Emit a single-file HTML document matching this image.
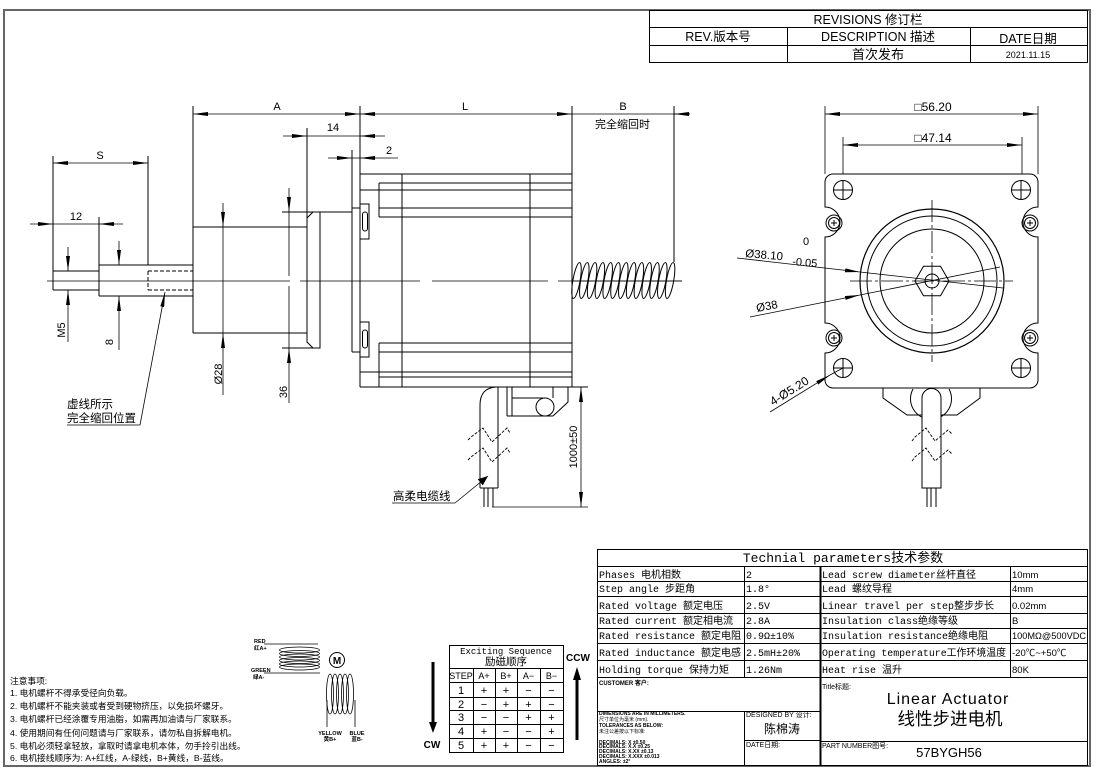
<!DOCTYPE html>
<html><head><meta charset="utf-8"><style>
html,body{margin:0;padding:0;background:#fff;}
svg{display:block;}
text{font-family:"Liberation Sans","Noto Sans CJK SC",sans-serif;fill:#000;}
.m{font-family:"Liberation Mono","Noto Sans CJK SC",monospace;}
.c{text-anchor:middle;}
</style></head><body>
<svg width="1097" height="774" viewBox="0 0 1097 774" xmlns="http://www.w3.org/2000/svg">
<defs>
<marker id="a" viewBox="0 0 15 4" refX="15" refY="2" markerWidth="15" markerHeight="4" markerUnits="userSpaceOnUse" orient="auto-start-reverse"><path d="M0,0L15,2L0,4z" fill="#000"/></marker>
<marker id="b" viewBox="0 0 10 8" refX="10" refY="4" markerWidth="10" markerHeight="8" markerUnits="userSpaceOnUse" orient="auto"><path d="M0,0L10,4L0,8z" fill="#000"/></marker>
</defs>
<rect x="0" y="0" width="1097" height="774" fill="#fff"/>
<rect x="4" y="10" width="1086" height="756" fill="none" stroke="#666" stroke-width="2"/>

<!-- REVISIONS -->
<g stroke="#000" stroke-width="1" fill="none">
<rect x="649.5" y="10.5" width="438" height="52"/>
<line x1="649.5" y1="27.5" x2="1087.5" y2="27.5"/>
<line x1="649.5" y1="45.5" x2="1087.5" y2="45.5"/>
<line x1="787.5" y1="27.5" x2="787.5" y2="62.5"/>
<line x1="970.5" y1="27.5" x2="970.5" y2="62.5"/>
</g>
<text class="c" x="868" y="24" font-size="12.5">REVISIONS 修订栏</text>
<text class="c" x="718" y="41" font-size="12.5">REV.版本号</text>
<text class="c" x="878" y="41" font-size="12.5">DESCRIPTION 描述</text>
<text class="c" x="1028" y="43" font-size="12.5">DATE日期</text>
<text class="c" x="878" y="59" font-size="13">首次发布</text>
<text class="c" x="1028" y="58" font-size="9">2021.11.15</text>

<!-- LEFT / SIDE VIEW -->
<g stroke="#000" stroke-width="1" fill="none">
<path d="M47,281H290M300,281H420M432,281H548M558,281H682" stroke-width="0.8"/>
<path d="M53,271H99M53,290H99M53,156V290"/>
<path d="M99,217V296M99,265H193M99,296H193"/>
<path d="M148,271H193M148,290H193M148,271V290" stroke-dasharray="4,2"/>
<path d="M148,156V265"/>
<path d="M193,106V333M193,227H307M193,333H307"/>
<path d="M307,128V342L313,348H320V212H313L307,218"/>
<path d="M282,212H352M282,348H320"/>
<path d="M352,150V352M352,208H360M352,352H360"/>
<path d="M360,106V387"/>
<path d="M360,174H572M379,183H572M360,190H572M379,208H572M379,217H572M379,183V217"/>
<path d="M379,343H572M379,352H572M360,372H572M379,377H572M360,387H588M379,343V387"/>
<path d="M402,174V387M530,174V387M572,106V387"/>
<rect x="360" y="204" width="9" height="35"/>
<rect x="362.5" y="212" width="5" height="19" rx="2.5"/>
<rect x="360" y="322" width="9" height="35"/>
<rect x="362.5" y="330" width="5" height="18" rx="2.5"/>
<path d="M674,106V262"/>
<!-- lead screw -->
<g stroke-width="1">
<ellipse cx="576.5" cy="280.5" rx="3.6" ry="18.2" transform="rotate(10 576.5 280.5)"/>
<ellipse cx="584.3" cy="280.5" rx="3.6" ry="18.2" transform="rotate(10 584.3 280.5)"/>
<ellipse cx="592.1" cy="280.5" rx="3.6" ry="18.2" transform="rotate(10 592.1 280.5)"/>
<ellipse cx="599.9" cy="280.5" rx="3.6" ry="18.2" transform="rotate(10 599.9 280.5)"/>
<ellipse cx="607.7" cy="280.5" rx="3.6" ry="18.2" transform="rotate(10 607.7 280.5)"/>
<ellipse cx="615.5" cy="280.5" rx="3.6" ry="18.2" transform="rotate(10 615.5 280.5)"/>
<ellipse cx="623.3" cy="280.5" rx="3.6" ry="18.2" transform="rotate(10 623.3 280.5)"/>
<ellipse cx="631.1" cy="280.5" rx="3.6" ry="18.2" transform="rotate(10 631.1 280.5)"/>
<ellipse cx="638.9" cy="280.5" rx="3.6" ry="18.2" transform="rotate(10 638.9 280.5)"/>
<ellipse cx="646.7" cy="280.5" rx="3.6" ry="18.2" transform="rotate(10 646.7 280.5)"/>
<ellipse cx="654.5" cy="280.5" rx="3.6" ry="18.2" transform="rotate(10 654.5 280.5)"/>
<ellipse cx="662.3" cy="280.5" rx="3.6" ry="18.2" transform="rotate(10 662.3 280.5)"/>
<ellipse cx="670.1" cy="280.5" rx="3.6" ry="18.2" transform="rotate(10 670.1 280.5)"/>
<path d="M573,281H682" stroke-width="0.8"/>
</g>
<!-- cable side -->
<path d="M480,488V405Q480,388 496,387M498,387V488M480,488H498M484,488V507M488,488V507M493,488V507"/>
<path d="M468,440L471,437L483,428L492,442L507,428L510,433M468,460L471,457L483,448L492,462L507,448L510,453" stroke-dasharray="3,1.5" stroke-width="0.9"/>
<path d="M507,387V416M512,387V416M507,416H553M512,398H543M553,387V398M568,387V402L553,416"/>
<circle cx="545" cy="407" r="9"/>
</g>

<!-- side view dimensions -->
<g stroke="#000" stroke-width="0.8" fill="none">
<path d="M193,114H360" marker-start="url(#a)" marker-end="url(#a)"/>
<path d="M360,114H572" marker-start="url(#a)" marker-end="url(#a)"/>
<path d="M572,114H690"/>
<path d="M690,114H674" marker-end="url(#a)"/>
<path d="M283,136H307" marker-end="url(#a)"/>
<path d="M307,136H360"/>
<path d="M385,136H360" marker-end="url(#a)"/>
<path d="M328,158H352" marker-end="url(#a)"/>
<path d="M352,158H360"/>
<path d="M398,158H360" marker-end="url(#a)"/>
<path d="M53,163H148" marker-start="url(#a)" marker-end="url(#a)"/>
<path d="M30,224H53" marker-end="url(#a)"/>
<path d="M53,224H99"/>
<path d="M123,224H99" marker-end="url(#a)"/>
<path d="M68,247V271" marker-end="url(#a)"/>
<path d="M68,342V290" marker-end="url(#a)"/>
<path d="M119,241V265" marker-end="url(#a)"/>
<path d="M119,350V296" marker-end="url(#a)"/>
<path d="M223,203V227" marker-end="url(#a)"/>
<path d="M223,227V333"/>
<path d="M223,395V333" marker-end="url(#a)"/>
<path d="M289,188V212" marker-end="url(#a)"/>
<path d="M289,212V276M289,286V348"/>
<path d="M289,403V348" marker-end="url(#a)"/>
<path d="M581,387V507" marker-start="url(#a)" marker-end="url(#a)"/>
<path d="M492,507H588"/>
<path d="M140,425L165,292" marker-end="url(#a)"/>
<path d="M67,425H140"/>
<path d="M455,503L488,476" marker-end="url(#b)"/>
<path d="M392,503H455"/>
</g>
<text class="c" x="277" y="110" font-size="11">A</text>
<text class="c" x="465" y="110" font-size="11">L</text>
<text class="c" x="623" y="110" font-size="11">B</text>
<text x="595" y="128" font-size="11">完全缩回时</text>
<text class="c" x="333" y="131" font-size="11">14</text>
<text class="c" x="389" y="154" font-size="11">2</text>
<text class="c" x="100" y="159" font-size="11">S</text>
<text class="c" x="76" y="220" font-size="11">12</text>
<text class="c" transform="translate(65,330) rotate(-90)" font-size="11">M5</text>
<text class="c" transform="translate(113,342) rotate(-90)" font-size="11">8</text>
<text class="c" transform="translate(222,374) rotate(-90)" font-size="11">Ø28</text>
<text class="c" transform="translate(287,392) rotate(-90)" font-size="11">36</text>
<text class="c" transform="translate(577,447) rotate(-90)" font-size="11">1000±50</text>
<text x="67" y="408" font-size="11.5">虚线所示</text>
<text x="67" y="422" font-size="11.5">完全缩回位置</text>
<text x="393" y="500" font-size="11.5">高柔电缆线</text>

<!-- FRONT / RIGHT VIEW -->
<g stroke="#000" stroke-width="1" fill="none">
<path d="M833,174H1030A8,8 0 0 1 1038,182V207A15,15 0 0 0 1038,237V323A15,15 0 0 0 1038,353V380A8,8 0 0 1 1030,388H833A8,8 0 0 1 825,380V353A15,15 0 0 0 825,323V237A15,15 0 0 0 825,207V182A8,8 0 0 1 833,174Z"/>
<circle cx="843" cy="190" r="9.5"/><path d="M833,190H853M843,180V200"/>
<circle cx="1021" cy="190" r="9.5"/><path d="M1011,190H1031M1021,180V200"/>
<circle cx="843" cy="368" r="9.5"/><path d="M833,368H853M843,358V378"/>
<circle cx="1021" cy="368" r="9.5"/><path d="M1011,368H1031M1021,358V378"/>
<circle cx="834" cy="223" r="8"/><circle cx="834" cy="223" r="5.5"/><path d="M831,223H837M834,220V226"/>
<circle cx="1030" cy="223" r="8"/><circle cx="1030" cy="223" r="5.5"/><path d="M1027,223H1033M1030,220V226"/>
<circle cx="834" cy="338" r="8"/><circle cx="834" cy="338" r="5.5"/><path d="M831,338H837M834,335V341"/>
<circle cx="1030" cy="338" r="8"/><circle cx="1030" cy="338" r="5.5"/><path d="M1027,338H1033M1030,335V341"/>
<circle cx="932" cy="281" r="72" stroke-width="1.2"/>
<circle cx="932" cy="281" r="65"/>
<circle cx="932" cy="281" r="52"/>
<polygon points="949,281 940.5,295.7 923.5,295.7 915,281 923.5,266.3 940.5,266.3"/>
<circle cx="932" cy="281" r="7"/>
<path d="M850,281H1013" stroke-dasharray="22,3,3,3" stroke-width="0.8"/>
<path d="M932,200V362" stroke-dasharray="22,3,3,3" stroke-width="0.8"/>
<path d="M883,388V398L907,415H957L980,398V388"/>
<path d="M913,389A20.5,20.5 0 1 0 949,389"/>
<path d="M922,488V398A9.5,9.5 0 0 1 941,398V488Z" fill="#fff"/>
<path d="M927,488V507M931,488V507M936,488V507"/>
<path d="M912,441L915,437L926,428L935,441L948,430L952,434M912,461L915,457L926,448L935,461L948,450L952,454" stroke-dasharray="3,1.5" stroke-width="0.9"/>
</g>
<g stroke="#000" stroke-width="0.8" fill="none">
<path d="M825,106V174M1038,106V174M843,137V174M1022,137V174"/>
<path d="M825,114H1038" marker-start="url(#a)" marker-end="url(#a)"/>
<path d="M843,145H1022" marker-start="url(#a)" marker-end="url(#a)"/>
<path d="M737,258L860,272" marker-end="url(#a)"/>
<path d="M860,272L1003,288"/>
<path d="M750,317L860,295" marker-end="url(#a)"/>
<path d="M860,295L1000,267"/>
<path d="M770,412L830,375" marker-end="url(#a)"/>
<path d="M830,375L843,368"/>
</g>
<text class="c" x="933" y="111" font-size="12">□56.20</text>
<text class="c" x="933" y="142" font-size="12">□47.14</text>
<text x="745" y="257" font-size="11.5" fill="#223" transform="rotate(5 745 257)">Ø38.10</text>
<text x="803" y="245" font-size="11" fill="#223">0</text>
<text x="792" y="265" font-size="11" fill="#223" transform="rotate(5 792 265)">-0.05</text>
<text x="757" y="312" font-size="11.5" fill="#223" transform="rotate(-11 757 312)">Ø38</text>
<text x="773" y="406" font-size="12" fill="#322" transform="rotate(-32 773 406)">4-Ø5.20</text>

<!-- PARAMETERS TABLE -->
<g stroke="#000" stroke-width="1" fill="none">
<rect x="597.5" y="549.5" width="490" height="128"/>
<path d="M597.5,566.5H1087.5M597.5,581.5H1087.5M597.5,596.5H1087.5M597.5,613.5H1087.5M597.5,628.5H1087.5M597.5,643.5H1087.5M597.5,660.5H1087.5"/>
<path d="M744.5,566.5V678M1010.5,566.5V678"/>
<path d="M820.5,566.5V766" stroke-width="2"/>
<!-- title block -->
<path d="M597.5,677.5V765.5H1087.5V677.5"/>
<path d="M597.5,711.5H820.5M744.5,711.5V765.5M744.5,740.5H820.5M820.5,741.5H1087.5"/>
</g>
<text class="c m" x="843" y="562" font-size="13">Technial parameters技术参数</text>
<g class="m" font-size="10">
<text class="m" x="599" y="578">Phases 电机相数</text>
<text class="m" x="599" y="592">Step angle 步距角</text>
<text class="m" x="599" y="609">Rated voltage 额定电压</text>
<text class="m" x="599" y="624">Rated current 额定相电流</text>
<text class="m" x="599" y="639">Rated resistance 额定电阻</text>
<text class="m" x="599" y="656">Rated inductance 额定电感</text>
<text class="m" x="599" y="673">Holding torque 保持力矩</text>
<text class="m" x="746" y="578">2</text>
<text class="m" x="746" y="592">1.8°</text>
<text class="m" x="746" y="609">2.5V</text>
<text class="m" x="746" y="624">2.8A</text>
<text class="m" x="746" y="639">0.9Ω±10%</text>
<text class="m" x="746" y="656">2.5mH±20%</text>
<text class="m" x="746" y="673">1.26Nm</text>
<text class="m" x="822" y="578">Lead screw diameter丝杆直径</text>
<text class="m" x="822" y="592">Lead 螺纹导程</text>
<text class="m" x="822" y="609">Linear travel per step整步步长</text>
<text class="m" x="822" y="624">Insulation class绝缘等级</text>
<text class="m" x="822" y="639">Insulation resistance绝缘电阻</text>
<text class="m" x="822" y="656" textLength="184" lengthAdjust="spacingAndGlyphs">Operating temperature工作环境温度</text>
<text class="m" x="822" y="673">Heat rise 温升</text>
<text x="1012" y="578" font-size="9.5">10mm</text>
<text x="1012" y="592" font-size="9.5">4mm</text>
<text x="1012" y="609" font-size="9.5">0.02mm</text>
<text x="1012" y="624" font-size="9.5">B</text>
<text x="1012" y="639" font-size="9.5" textLength="74" lengthAdjust="spacingAndGlyphs">100MΩ@500VDC</text>
<text x="1012" y="656" font-size="9.5">-20℃~+50℃</text>
<text x="1012" y="673" font-size="9.5">80K</text>
</g>

<!-- title block text -->
<text x="599" y="685" font-size="6" font-weight="bold">CUSTOMER 客户:</text>
<text x="599" y="715" font-size="5" font-weight="bold">DIMENSIONS ARE IN MILLIMETERS.</text>
<text x="599" y="721" font-size="5">尺寸单位为毫米 (mm).</text>
<text x="599" y="727" font-size="5" font-weight="bold">TOLERANCES AS BELOW:</text>
<text x="599" y="733" font-size="5">未注公差按以下标准:</text>
<text x="599" y="744" font-size="5" font-weight="bold">DECIMALS: X      ±0.50</text>
<text x="599" y="748" font-size="5" font-weight="bold">DECIMALS: X.X    ±0.25</text>
<text x="599" y="753" font-size="5" font-weight="bold">DECIMALS: X.XX   ±0.13</text>
<text x="599" y="758" font-size="5" font-weight="bold">DECIMALS: X.XXX  ±0.013</text>
<text x="599" y="763" font-size="5" font-weight="bold">ANGLES:   ±2°</text>
<text x="746" y="717" font-size="7">DESIGNED BY 设计:</text>
<text class="c" x="782" y="733" font-size="12">陈棉涛</text>
<text x="746" y="747" font-size="7">DATE日期:</text>
<text x="822" y="689" font-size="7">Title标题:</text>
<text class="c" x="948" y="704" font-size="16" letter-spacing="1">Linear Actuator</text>
<text class="c" x="950" y="725" font-size="17.5">线性步进电机</text>
<text x="822" y="748" font-size="7">PART NUMBER图号:</text>
<text class="c" x="949" y="757" font-size="13">57BYGH56</text>

<!-- NOTES -->
<g font-size="8.7">
<text x="10" y="684">注意事项:</text>
<text x="10" y="696">1. 电机螺杆不得承受径向负载。</text>
<text x="10" y="709">2. 电机螺杆不能夹装或者受到硬物挤压，以免损坏螺牙。</text>
<text x="10" y="722">3. 电机螺杆已经涂覆专用油脂，如需再加油请与厂家联系。</text>
<text x="10" y="736">4. 使用期间有任何问题请与厂家联系，请勿私自拆解电机。</text>
<text x="10" y="749">5. 电机必须轻拿轻放，拿取时请拿电机本体，勿手拎引出线。</text>
<text x="10" y="761">6. 电机接线顺序为: A+红线，A-绿线，B+黄线，B-蓝线。</text>
</g>

<!-- WIRING DIAGRAM -->
<g stroke="#000" stroke-width="0.8" fill="none">
<path d="M264,644H318M264,673H320"/>
<ellipse cx="299.5" cy="650" rx="20" ry="3"/>
<ellipse cx="299.5" cy="653.5" rx="20" ry="3"/>
<ellipse cx="299.5" cy="657" rx="20" ry="3"/>
<ellipse cx="299.5" cy="660.5" rx="20" ry="3"/>
<ellipse cx="299.5" cy="664" rx="20" ry="3"/>
<ellipse cx="299.5" cy="667" rx="20" ry="3"/>
<ellipse cx="330" cy="694" rx="3.5" ry="20"/>
<ellipse cx="335" cy="694" rx="3.5" ry="20"/>
<ellipse cx="340" cy="694" rx="3.5" ry="20"/>
<ellipse cx="345" cy="694" rx="3.5" ry="20"/>
<ellipse cx="350" cy="694" rx="3.5" ry="20"/>
<path d="M327,700V727M355,700V727"/>
<circle cx="337" cy="660" r="7.5" stroke-width="1"/>
</g>
<text class="c" x="337" y="664" font-size="10" font-weight="bold">M</text>
<text x="254" y="643" font-size="5.5" font-weight="bold">RED</text>
<text x="254" y="650" font-size="5.5" font-weight="bold">红A+</text>
<text x="251" y="672" font-size="5.5" font-weight="bold">GREEN</text>
<text x="253" y="679" font-size="5.5" font-weight="bold">绿A-</text>
<text class="c" x="330" y="735" font-size="5.5" font-weight="bold">YELLOW</text>
<text class="c" x="330" y="741" font-size="5.5" font-weight="bold">黄B+</text>
<text class="c" x="357" y="735" font-size="5.5" font-weight="bold">BLUE</text>
<text class="c" x="357" y="741" font-size="5.5" font-weight="bold">蓝B-</text>

<!-- EXCITING SEQUENCE -->
<g stroke="#000" stroke-width="1" fill="none">
<rect x="449.5" y="645.5" width="114" height="107"/>
<path d="M449.5,668.5H563.5M449.5,682.5H563.5M449.5,697.5H563.5M449.5,710.5H563.5M449.5,724.5H563.5M449.5,738.5H563.5"/>
<path d="M473.5,668.5V752.5M495.5,668.5V752.5M517.5,668.5V752.5M540.5,668.5V752.5"/>
</g>
<text class="c m" x="506" y="654" font-size="9">Exciting Sequence</text>
<text class="c" x="506" y="665" font-size="10.5">励磁顺序</text>
<g font-size="9">
<text class="c" x="461" y="679">STEP</text>
<text class="c" x="484" y="679">A+</text>
<text class="c" x="506" y="679">B+</text>
<text class="c" x="528.5" y="679">A−</text>
<text class="c" x="551.5" y="679">B−</text>
</g>
<g font-size="11">
<text class="c" x="461" y="694">1</text><text class="c" x="484" y="694">+</text><text class="c" x="506" y="694">+</text><text class="c" x="528.5" y="694">−</text><text class="c" x="551.5" y="694">−</text>
<text class="c" x="461" y="708">2</text><text class="c" x="484" y="708">−</text><text class="c" x="506" y="708">+</text><text class="c" x="528.5" y="708">+</text><text class="c" x="551.5" y="708">−</text>
<text class="c" x="461" y="721">3</text><text class="c" x="484" y="721">−</text><text class="c" x="506" y="721">−</text><text class="c" x="528.5" y="721">+</text><text class="c" x="551.5" y="721">+</text>
<text class="c" x="461" y="735">4</text><text class="c" x="484" y="735">+</text><text class="c" x="506" y="735">−</text><text class="c" x="528.5" y="735">−</text><text class="c" x="551.5" y="735">+</text>
<text class="c" x="461" y="749">5</text><text class="c" x="484" y="749">+</text><text class="c" x="506" y="749">+</text><text class="c" x="528.5" y="749">−</text><text class="c" x="551.5" y="749">−</text>
</g>
<path d="M433,662V724" stroke="#000" stroke-width="3"/>
<path d="M429,722L437,722L433,733Z" fill="#000"/>
<path d="M577,740V678" stroke="#000" stroke-width="3"/>
<path d="M573,680L581,680L577,667Z" fill="#000"/>
<text class="c" x="432" y="748" font-size="10" font-weight="bold">CW</text>
<text class="c" x="578" y="661" font-size="10" font-weight="bold">CCW</text>
</svg>
</body></html>
